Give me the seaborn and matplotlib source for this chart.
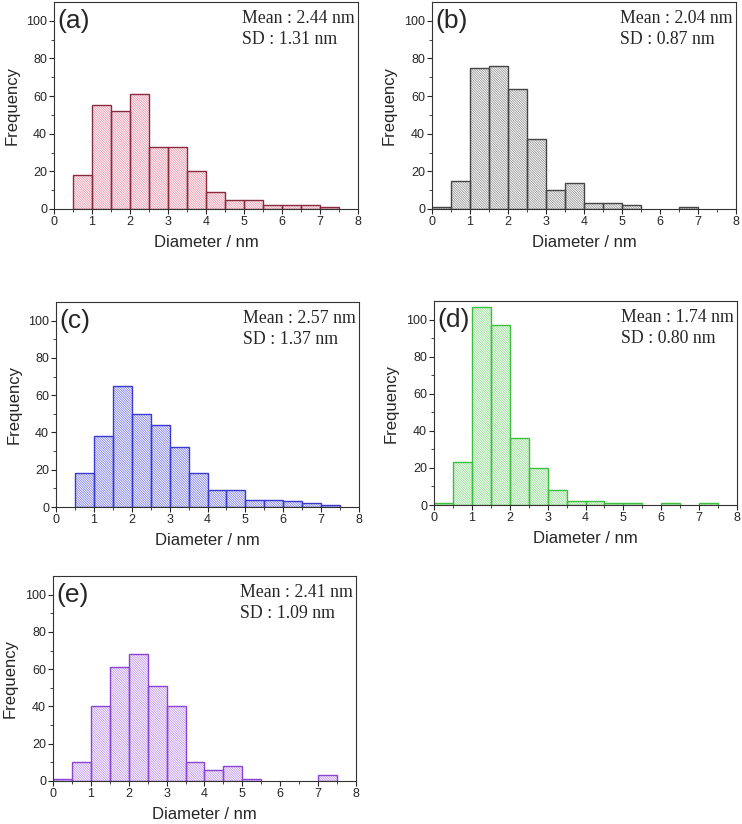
import numpy as np
import pandas as pd
import matplotlib
matplotlib.use("Agg")
import matplotlib.pyplot as plt
import seaborn as sns

# bin centres 0.25..7.25 nm, bin width 0.5
centers = [0.25, 0.75, 1.25, 1.75, 2.25, 2.75, 3.25, 3.75,
           4.25, 4.75, 5.25, 5.75, 6.25, 6.75, 7.25]

# counts per bin (0-0.5, 0.5-1, ..., 7-7.5)
counts_a = [0, 18, 55, 52, 61, 33, 33, 20, 9, 5, 5, 2, 2, 2, 1]
counts_b = [1, 15, 75, 76, 64, 37, 10, 14, 3, 3, 2, 0, 0, 1, 0]
counts_c = [0, 18, 38, 65, 50, 44, 32, 18, 9, 9, 4, 4, 3, 2, 1]
counts_d = [1, 23, 107, 97, 36, 20, 8, 2, 2, 1, 1, 0, 1, 0, 1]
counts_e = [1, 10, 40, 61, 68, 51, 40, 10, 6, 8, 1, 0, 0, 0, 3]

labels = ["(a)", "(b)", "(c)", "(d)", "(e)"]
means = ["2.44", "2.04", "2.57", "1.74", "2.41"]
sds = ["1.31", "0.87", "1.37", "0.80", "1.09"]

edge_colors = ["#8a2a3e", "#454545", "#3a3ad0", "#3cbf3c", "#8a45d6"]
hatch_colors = ["#ec9ab0", "#9a9a9a", "#8484ec", "#96e096", "#c49af0"]

positions = [
    [0.0728, 0.7464, 0.4097, 0.2512],
    [0.5822, 0.7464, 0.4097, 0.2512],
    [0.0755, 0.3847, 0.4084, 0.2488],
    [0.5849, 0.3871, 0.4084, 0.2476],
    [0.0714, 0.0522, 0.4084, 0.2488],
]

sns.set_style("ticks")
plt.rcParams["font.family"] = ["Liberation Sans", "DejaVu Sans"]
plt.rcParams["hatch.linewidth"] = 0.6

fig = plt.figure(figsize=(7.42, 8.24), dpi=100)

all_counts = [counts_a, counts_b, counts_c, counts_d, counts_e]
for i, counts in enumerate(all_counts):
    ax = fig.add_axes(positions[i])
    df = pd.DataFrame({"d": centers, "n": counts})
    # hatched fill layer
    sns.histplot(data=df, x="d", weights="n", binwidth=0.5, binrange=(0, 7.5),
                 ax=ax, fill=True, color=hatch_colors[i], linewidth=0, alpha=1)
    for p in ax.patches:
        p.set_facecolor("none")
        p.set_hatch("\\" * 14)
        p.set_edgecolor(hatch_colors[i])
        p.set_linewidth(0)
    n_fill = len(ax.patches)
    # outline layer
    sns.histplot(data=df, x="d", weights="n", binwidth=0.5, binrange=(0, 7.5),
                 ax=ax, fill=False, color=edge_colors[i], linewidth=1.0)
    for p in ax.patches[n_fill:]:
        p.set_edgecolor(edge_colors[i])
    for p in ax.patches:
        if p.get_height() == 0:
            p.set_visible(False)

    ax.set_xlim(0, 8)
    ax.set_ylim(0, 110)
    ax.set_xticks(range(0, 9))
    ax.set_xticks(np.arange(0.5, 8, 1.0), minor=True)
    ax.set_yticks([0, 20, 40, 60, 80, 100])
    ax.set_yticks([10, 30, 50, 70, 90], minor=True)
    ax.tick_params(which="major", direction="out", length=3.5, width=0.8,
                   labelsize=9, pad=1.5)
    ax.tick_params(which="minor", direction="out", length=2, width=0.6)
    for s in ax.spines.values():
        s.set_visible(True)
        s.set_linewidth(0.8)
        s.set_color("#333333")
    ax.set_xlabel("Diameter / nm", fontsize=12, labelpad=5)
    ax.set_ylabel("Frequency", fontsize=12, labelpad=5)
    ax.text(0.012, 0.965, labels[i], transform=ax.transAxes, ha="left", va="top",
            fontsize=19)
    t = ax.text(0.99, 0.96, "Mean : " + means[i] + " nm\nSD : " + sds[i] + " nm",
                transform=ax.transAxes, ha="right", va="top", fontsize=12.8,
                family=["Liberation Serif", "DejaVu Serif"], linespacing=1.3)
    t.set_multialignment("left")

fig.savefig("out.png", dpi=100)
